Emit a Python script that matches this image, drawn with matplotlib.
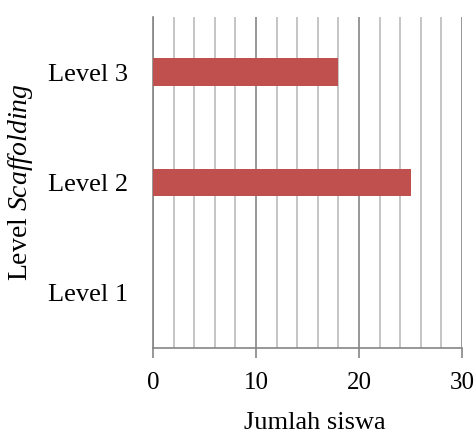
import matplotlib
matplotlib.use("Agg")
import matplotlib.pyplot as plt
from matplotlib.ticker import MultipleLocator

plt.rcParams["font.family"] = ["Liberation Serif", "DejaVu Serif"]
plt.rcParams["mathtext.fontset"] = "custom"
plt.rcParams["mathtext.rm"] = "Liberation Serif"
plt.rcParams["mathtext.it"] = "Liberation Serif:italic"

levels = ["Level 1", "Level 2", "Level 3"]
counts = [0, 25, 18]

fig = plt.figure(figsize=(4.77, 4.37), dpi=100)
ax = fig.add_axes([0.3208, 0.2037, 0.6478, 0.7574])

ax.barh(levels, counts, height=0.25, color="#C0504D", zorder=3)

ax.set_xlim(0, 30)
ax.set_ylim(-0.5, 2.5)
ax.xaxis.set_major_locator(MultipleLocator(10))
ax.xaxis.set_minor_locator(MultipleLocator(2))
ax.grid(axis="x", which="major", color="#858585", linewidth=1.2, zorder=1)
ax.grid(axis="x", which="minor", color="#BBBBBB", linewidth=1.2, zorder=1)

for s in ["top", "right"]:
    ax.spines[s].set_visible(False)
for s in ["left", "bottom"]:
    ax.spines[s].set_color("#858585")
    ax.spines[s].set_linewidth(1.2)

ax.tick_params(axis="x", which="major", length=7, width=1.2, color="#858585",
               labelsize=18, pad=10)
ax.tick_params(axis="x", which="minor", length=0)
ax.tick_params(axis="y", length=0, labelsize=19, pad=18)

ax.set_xlabel("Jumlah siswa", fontsize=19, labelpad=13)
ax.xaxis.label.set_x(0.525)
ax.set_ylabel(r"Level $\mathit{Scaffolding}$", fontsize=20, labelpad=9)

fig.savefig("out.png", dpi=100)
